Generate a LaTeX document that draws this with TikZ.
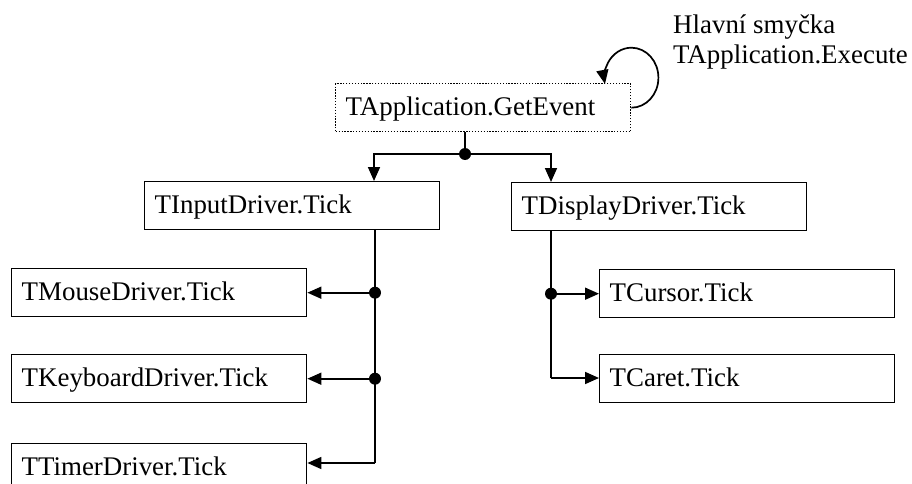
\documentclass[tikz,border=0pt]{standalone}
\usepackage{fontspec}
\setmainfont{Liberation Serif}
\usetikzlibrary{arrows.meta}
\begin{document}
\begin{tikzpicture}[x=1pt,y=1pt,
  box/.style={draw, line width=1.4pt, anchor=north west, minimum height=48pt,
    inner xsep=10pt, inner ysep=0pt, text width=275pt, align=left,
    text height=16pt, text depth=0pt, font=\fontsize{26.9}{30}\selectfont},
  dotbox/.style={box, dash pattern=on 1.3pt off 1.6pt},
  conn/.style={line width=1.7pt},
  arr/.style={conn, -{Triangle[length=14pt,width=12pt]}},
  jdot/.style={circle, fill=black, inner sep=0pt, minimum size=12pt}
]
\useasboundingbox (0,0) rectangle (912,-484);
\clip (0,0) rectangle (912,-484);
\fill[white] (0,0) rectangle (912,-484);

\node[dotbox] (ge) at (335,-83) {TApplication.GetEvent};
\node[box] (ti) at (144,-181) {TInputDriver.Tick};
\node[box] (td) at (511,-182) {TDisplayDriver.Tick};
\node[box] (tm) at (11,-268) {TMouseDriver.Tick};
\node[box] (tk) at (11,-354) {TKeyboardDriver.Tick};
\node[box] (tt) at (11,-443) {TTimerDriver.Tick};
\node[box] (tc) at (599,-269) {TCursor.Tick};
\node[box] (tca) at (599,-354) {TCaret.Tick};

\node[anchor=north west, inner sep=0pt, align=left,
  font=\fontsize{26.9}{30}\selectfont] (lbl) at (673,-15)
  {Hlavní smyčka\\TApplication.Execute};

% loop arrow
\draw[arr] (ge.east) arc[start angle=-90, end angle=192, x radius=27, y radius=30];

% top fork
\coordinate (j0) at (465,-154);
\coordinate (jl) at (374,-154);
\coordinate (jr) at (551,-154);
\draw[conn] (j0 |- ge.south) -- (j0);
\draw[arr] (j0) -- (jl) -- (jl |- ti.north);
\draw[arr] (j0) -- (jr) -- (jr |- td.north);
\node[jdot] (d0) at (j0) {};

% left trunk
\coordinate (lt) at (375,-463);
\draw[conn] (lt |- ti.south) -- (lt);
\draw[arr] (lt) -- (lt -| tt.east);
\coordinate (lm) at (lt |- tm.east);
\coordinate (lk) at (lt |- tk.east);
\draw[arr] (lm) -- (tm.east);
\draw[arr] (lk) -- (tk.east);
\node[jdot] (d1) at (lm) {};
\node[jdot] (d2) at (lk) {};

% right trunk
\coordinate (rt) at (551,-378);
\draw[conn] (rt |- td.south) -- (rt);
\draw[arr] (rt) -- (rt -| tca.west);
\coordinate (rc) at (rt |- tc.west);
\draw[arr] (rc) -- (tc.west);
\node[jdot] (d3) at (rc) {};
\end{tikzpicture}
\end{document}
